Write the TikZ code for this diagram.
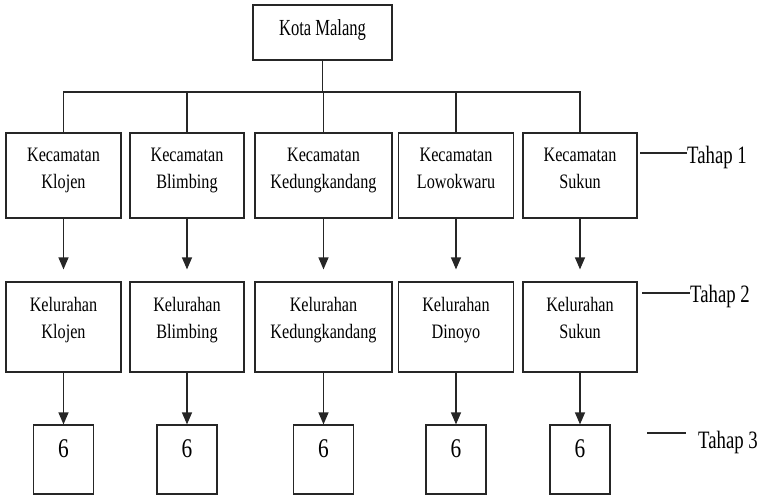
\documentclass[tikz,border=0pt]{standalone}
\usepackage{fontspec}
\setmainfont{Liberation Serif}
\newfontfamily\boxfont[FakeStretch=0.79]{Liberation Serif}
\newfontfamily\topfont[FakeStretch=0.72]{Liberation Serif}
\newfontfamily\tahapfont[FakeStretch=0.75]{Liberation Serif}
\usetikzlibrary{arrows.meta}
\begin{document}
\begin{tikzpicture}[x=1pt,y=-1pt,
  box/.style={draw=black!85,line width=1.2pt,rectangle,inner sep=0pt},
  boxtext/.style={inner sep=0pt,align=center,anchor=north,font=\boxfont\fontsize{20.5}{27}\selectfont},
  numtext/.style={inner sep=0pt,anchor=base,font=\boxfont\fontsize{27}{30}\selectfont},
  tahap/.style={inner sep=0pt,anchor=base west,font=\tahapfont\fontsize{25}{28}\selectfont},
  conn/.style={draw=black!85,line width=1.2pt},
  arr/.style={conn,-{Triangle[width=10pt,length=12pt]}}
]
\useasboundingbox (0,0) rectangle (760,496);

% top box
\node[box,minimum width=139pt,minimum height=55pt] (kota) at (322.5,32.5) {};
\node[inner sep=0pt,anchor=base,font=\topfont\fontsize{23}{26}\selectfont] (kotat) at (322.5,35) {Kota Malang};

% row 1
\node[box,minimum width=115pt,minimum height=85pt] (k1) at (63.5,175.5) {};
\node[box,minimum width=114pt,minimum height=85pt] (k2) at (187,175.5) {};
\node[box,minimum width=137pt,minimum height=85pt] (k3) at (323.5,175.5) {};
\node[box,minimum width=115pt,minimum height=85pt] (k4) at (456,175.5) {};
\node[box,minimum width=114pt,minimum height=85pt] (k5) at (580,175.5) {};
\node[boxtext] (k1t) at (63.5,148) {Kecamatan\\Klojen};
\node[boxtext] (k2t) at (187,148) {Kecamatan\\Blimbing};
\node[boxtext] (k3t) at (323.5,148) {Kecamatan\\Kedungkandang};
\node[boxtext] (k4t) at (456,148) {Kecamatan\\Lowokwaru};
\node[boxtext] (k5t) at (580,148) {Kecamatan\\Sukun};

% row 2
\node[box,minimum width=115pt,minimum height=90pt] (l1) at (63.5,327) {};
\node[box,minimum width=114pt,minimum height=90pt] (l2) at (187,327) {};
\node[box,minimum width=137pt,minimum height=90pt] (l3) at (323.5,327) {};
\node[box,minimum width=115pt,minimum height=90pt] (l4) at (456,327) {};
\node[box,minimum width=114pt,minimum height=90pt] (l5) at (580,327) {};
\node[boxtext] (l1t) at (63.5,297) {Kelurahan\\Klojen};
\node[boxtext] (l2t) at (187,297) {Kelurahan\\Blimbing};
\node[boxtext] (l3t) at (323.5,297) {Kelurahan\\Kedungkandang};
\node[boxtext] (l4t) at (456,297) {Kelurahan\\Dinoyo};
\node[boxtext] (l5t) at (580,297) {Kelurahan\\Sukun};

% row 3
\foreach \i/\x in {1/63.5,2/187,3/323.5,4/456,5/580}{
  \node[box,minimum width=60pt,minimum height=69pt] (s\i) at (\x,459.5) {};
  \node[numtext] (s\i t) at (\x,457) {6};
}

% connectors from top
\coordinate (bus) at (322.5,92);
\draw[conn] (kota.south) -- (bus);
\draw[conn] (k1.north) |- (bus) -| (k5.north);
\draw[conn] (k2.north) -- (k2.north |- bus);
\draw[conn] (k3.north) -- (k3.north |- bus);
\draw[conn] (k4.north) -- (k4.north |- bus);

% arrows
\foreach \i in {1,...,5}{
  \draw[arr] (k\i.south) -- ([yshift=12pt]l\i.north);
  \draw[arr] (l\i.south) -- (s\i.north);
}

% tahap labels
\node[tahap] (t1) at (687,163) {Tahap 1};
\node[tahap] (t2) at (690,302) {Tahap 2};
\node[tahap] (t3) at (698,448) {Tahap 3};
\coordinate (t1s) at (640,153);
\coordinate (t2s) at (642,293);
\coordinate (t3s) at (647,433);
\draw[conn] (t1s) -- (t1s -| t1.west);
\draw[conn] (t2s) -- (t2s -| t2.west);
\draw[conn] (t3s) -- ([xshift=-12pt]t3s -| t3.west);
\end{tikzpicture}
\end{document}
